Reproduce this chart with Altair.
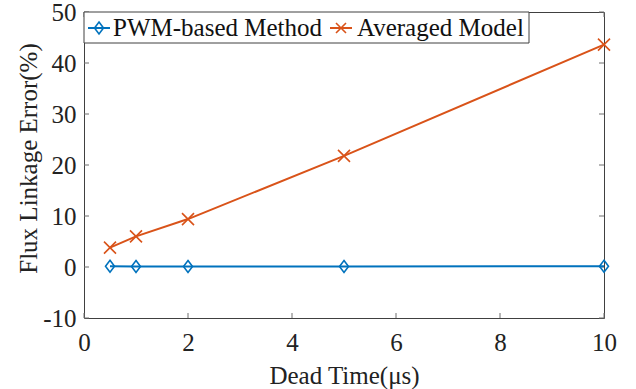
import altair as alt
import pandas as pd

# Dead time (µs) and flux-linkage error (%) for both methods
dead_time = [0.5, 1, 2, 5, 10]
pwm_error = [0.15, 0.1, 0.1, 0.1, 0.15]
avg_error = [3.8, 6.0, 9.4, 21.8, 43.6]

series_names = ["PWM-based Method", "Averaged Model"]
series_colors = ["#0072BD", "#D95319"]

x_ticks = [0, 2, 4, 6, 8, 10]
y_ticks = [-10, 0, 10, 20, 30, 40, 50]

FONT = "'Times New Roman', 'Liberation Serif', serif"
W, H = 520, 306
FRAME = "#404040"
TICK = "#6e6e6e"
TEXT = "#222222"

# marker paths: tall diamond and diagonal cross
DIAMOND = "M0,-1L0.75,0L0,1L-0.75,0Z"
XMARK = "M-1,-1L1,1M-1,1L1,-1"
shapes = [DIAMOND, XMARK]

df = pd.DataFrame({
    "x": dead_time * 2,
    "y": pwm_error + avg_error,
    "series": [series_names[0]] * len(dead_time) + [series_names[1]] * len(dead_time),
})

xs = alt.Scale(domain=[0, 10], nice=False, zero=False)
ys = alt.Scale(domain=[-10, 50], nice=False, zero=False)

x_axis = alt.Axis(
    values=x_ticks, title="Dead Time(μs)", domain=False, ticks=False, grid=False,
    labelExpr="'' + datum.value",
    labelFont=FONT, labelFontSize=25, labelColor=TEXT, labelPadding=32,
    labelBaseline="alphabetic", labelFlush=False,
    titleFont=FONT, titleFontSize=25, titleFontWeight="normal", titleColor=TEXT,
    titleX=W / 2, titleY=65, titleBaseline="alphabetic", titleAlign="center",
)
y_axis = alt.Axis(
    values=y_ticks, title="Flux Linkage Error(%)", domain=False, ticks=False, grid=False,
    labelExpr="'' + datum.value",
    labelFont=FONT, labelFontSize=25, labelColor=TEXT, labelPadding=8,
    labelBaseline="middle", labelFlush=False,
    titleFont=FONT, titleFontSize=25, titleFontWeight="normal", titleColor=TEXT,
    titleX=-56, titleY=146, titleAngle=-90, titleBaseline="middle", titleAlign="center",
)

xenc = alt.X("x:Q", scale=xs, axis=x_axis)
yenc = alt.Y("y:Q", scale=ys, axis=y_axis)
color = alt.Color("series:N", scale=alt.Scale(domain=series_names, range=series_colors), legend=None)

# inward tick marks on all four sides
xt = pd.DataFrame({"x": x_ticks})
yt = pd.DataFrame({"y": y_ticks})
ticks = [
    alt.Chart(xt).mark_rule(color=TICK, strokeWidth=1).encode(x=xenc, y=alt.value(H), y2=alt.value(H - 5)),
    alt.Chart(xt).mark_rule(color=TICK, strokeWidth=1).encode(x=xenc, y=alt.value(0), y2=alt.value(5)),
    alt.Chart(yt).mark_rule(color=TICK, strokeWidth=1).encode(y=yenc, x=alt.value(0), x2=alt.value(5)),
    alt.Chart(yt).mark_rule(color=TICK, strokeWidth=1).encode(y=yenc, x=alt.value(W), x2=alt.value(W - 5)),
]

lines = alt.Chart(df).mark_line(strokeWidth=2).encode(x=xenc, y=yenc, color=color, detail="series:N")

points = []
for name, col, shp in zip(series_names, series_colors, shapes):
    points.append(
        alt.Chart(df[df["series"] == name]).mark_point(
            shape=shp, size=144, filled=False, strokeWidth=1.6, color=col, opacity=1
        ).encode(x=xenc, y=yenc)
    )

# legend box drawn inside the top of the plot
legend_layers = [
    alt.Chart(pd.DataFrame({"k": [0]})).mark_rect(
        fill="white", stroke=FRAME, strokeWidth=1
    ).encode(x=alt.value(0), x2=alt.value(445), y=alt.value(0), y2=alt.value(31))
]
entry_x = [4, 246]
text_x = [29, 273]
for name, col, shp, lx, tx in zip(series_names, series_colors, shapes, entry_x, text_x):
    one = pd.DataFrame({"series": [name]})
    legend_layers.append(
        alt.Chart(one).mark_rule(color=col, strokeWidth=2).encode(
            x=alt.value(lx), x2=alt.value(lx + 22), y=alt.value(16)
        )
    )
    legend_layers.append(
        alt.Chart(one).mark_point(shape=shp, size=144 if shp == DIAMOND else 100,
                                  filled=False, strokeWidth=1.6, color=col, opacity=1).encode(
            x=alt.value(lx + 11), y=alt.value(16)
        )
    )
    legend_layers.append(
        alt.Chart(one).mark_text(font=FONT, fontSize=25, color="#111111", align="left",
                                 baseline="alphabetic").encode(
            x=alt.value(tx), y=alt.value(24), text="series:N"
        )
    )

chart = alt.layer(*ticks, lines, *points, *legend_layers).properties(
    width=W, height=H,
    autosize=alt.AutoSizeParams(type="none"),
    padding={"left": 84, "top": 12, "right": 32, "bottom": 71},
    background="white",
).configure_view(stroke=FRAME, strokeWidth=1)

chart.save("out.html", embed_options={"renderer": "svg", "actions": False})
